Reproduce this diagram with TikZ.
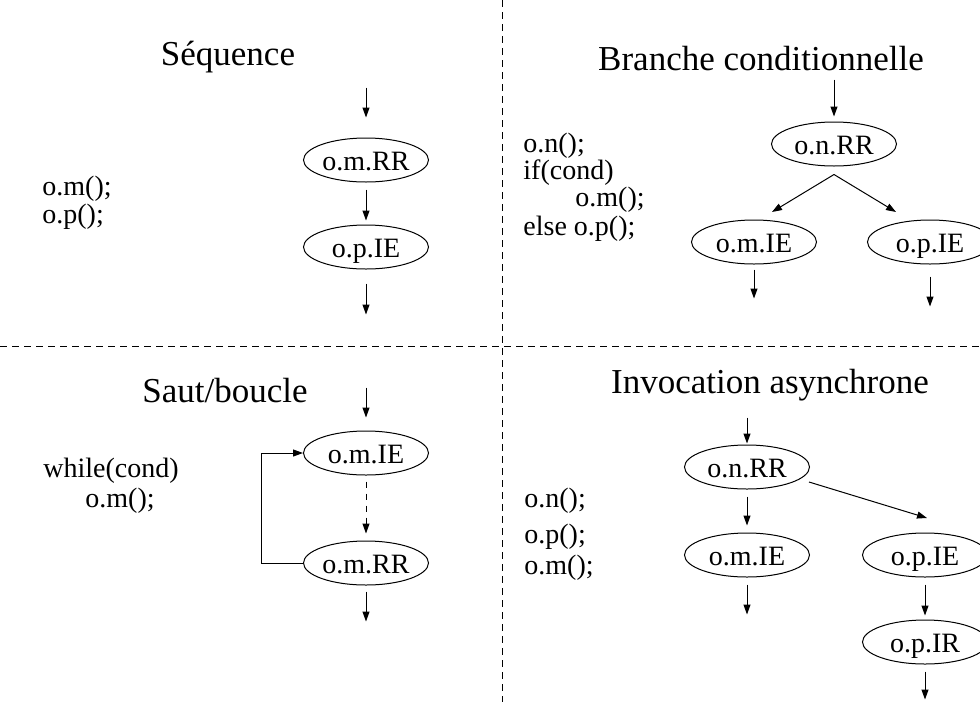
\documentclass[tikz,border=0pt]{standalone}
\usepackage{fontspec}
\setmainfont{Liberation Serif}
\usepackage{tikz}
\usetikzlibrary{positioning, arrows.meta, shapes.geometric}

\begin{document}
\begin{tikzpicture}[x=0.5pt, y=-0.5pt,
    etat/.style={draw, ellipse, line width=0.5pt, inner sep=0pt, text height=10.5pt, text depth=0pt,
                 minimum width=62.5pt, minimum height=22pt, font=\fontsize{14}{17}\selectfont},
    fleche/.style={-{Triangle[length=5pt, width=3.5pt]}, line width=0.5pt},
    code/.style={anchor=base west, inner sep=0pt, font=\fontsize{14}{17}\selectfont},
    titre/.style={anchor=base, inner sep=0pt, font=\fontsize{17.5}{21}\selectfont},
    separ/.style={line width=0.5pt, dash pattern=on 3.5pt off 2.5pt}]
  \clip (0,0) rectangle (980,702);

  \coordinate (vhaut) at (502,0);
  \coordinate (vbas) at (502,702);
  \coordinate (hgauche) at (0,346);
  \coordinate (hdroite) at (980,346);
  \draw[separ] (vhaut) -- (vbas);
  \draw[separ] (hgauche) -- (hdroite);

  % Sequence
  \node[titre] (tseq) at (228,65) {Séquence};
  \node[code] (cseq1) at (42,195) {o.m();};
  \node[code] (cseq2) at (42,223) {o.p();};
  \node[etat] (seqm) at (366,160) {o.m.RR};
  \node[etat] (seqp) at (366,247) {o.p.IE};
  \coordinate[above=25pt of seqm] (seqin);
  \coordinate[below=22.5pt of seqp] (seqout);
  \draw[fleche, shorten >=10pt] (seqin) -- (seqm);
  \draw[fleche, shorten <=3.5pt, shorten >=2pt] (seqm) -- (seqp);
  \draw[fleche, shorten <=7pt] (seqp) -- (seqout);

  % Branche conditionnelle
  \node[titre] (tbr) at (761,70) {Branche conditionnelle};
  \node[code] (cbr1) at (523,152) {o.n();};
  \node[code] (cbr2) at (523,179) {if(cond)};
  \node[code] (cbr3) at (575,206) {o.m();};
  \node[code] (cbr4) at (523,235) {else o.p();};
  \node[etat] (brn) at (834,144) {o.n.RR};
  \node[etat] (brm) at (754,242) {o.m.IE};
  \node[etat] (brp) at (930,242) {o.p.IE};
  \coordinate[above=21pt of brn] (brin);
  \coordinate[below=4pt of brn] (brfourche);
  \coordinate (brmpointe) at (772,212);
  \coordinate (brppointe) at (896,212);
  \coordinate[below=17pt of brm] (brmout);
  \coordinate[below=21pt of brp] (brpout);
  \draw[fleche, shorten >=2.5pt] (brin) -- (brn);
  \draw[fleche] (brfourche) -- (brmpointe);
  \draw[fleche] (brfourche) -- (brppointe);
  \draw[fleche, shorten <=2.5pt] (brm) -- (brmout);
  \draw[fleche, shorten <=6pt] (brp) -- (brpout);

  % Saut/boucle
  \node[titre] (tsaut) at (225,402) {Saut/boucle};
  \node[code] (csaut1) at (43,477) {while(cond)};
  \node[code] (csaut2) at (85,507) {o.m();};
  \node[etat] (bie) at (366,453) {o.m.IE};
  \node[etat] (brr) at (366,563) {o.m.RR};
  \coordinate[above=21.5pt of bie] (bin);
  \coordinate[below=18pt of brr] (bout);
  \draw[fleche, shorten >=6.5pt] (bin) -- (bie);
  \draw[fleche, dashed, shorten <=3pt, shorten >=3.5pt] (bie) -- (brr);
  \draw[fleche, shorten <=3pt] (brr) -- (bout);
  \draw[fleche] (brr.west) -- ++(-42,0) |- (bie.west);

  % Invocation asynchrone
  \node[titre] (tinv) at (770,393) {Invocation asynchrone};
  \node[code] (cinv1) at (524,507) {o.n();};
  \node[code] (cinv2) at (524,543) {o.p();};
  \node[code] (cinv3) at (524,574) {o.m();};
  \node[etat] (inr) at (747,467) {o.n.RR};
  \node[etat] (ime) at (747,555) {o.m.IE};
  \node[etat] (ipe) at (925,555) {o.p.IE};
  \node[etat] (ipr) at (925,642) {o.p.IR};
  \coordinate[above=13.5pt of inr] (iin);
  \coordinate[below=18.5pt of ime] (imout);
  \coordinate[below=17.5pt of ipr] (ipout);
  \coordinate (idepart) at (809,482);
  \coordinate (ipointe) at (927,518);
  \draw[fleche, shorten >=0.5pt] (iin) -- (inr);
  \draw[fleche, shorten <=3.5pt, shorten >=3.5pt] (inr) -- (ime);
  \draw[fleche, shorten <=3.5pt] (ime) -- (imout);
  \draw[fleche] (idepart) -- (ipointe);
  \draw[fleche, shorten <=3.5pt, shorten >=2pt] (ipe) -- (ipr);
  \draw[fleche, shorten <=3.5pt] (ipr) -- (ipout);
\end{tikzpicture}
\end{document}
